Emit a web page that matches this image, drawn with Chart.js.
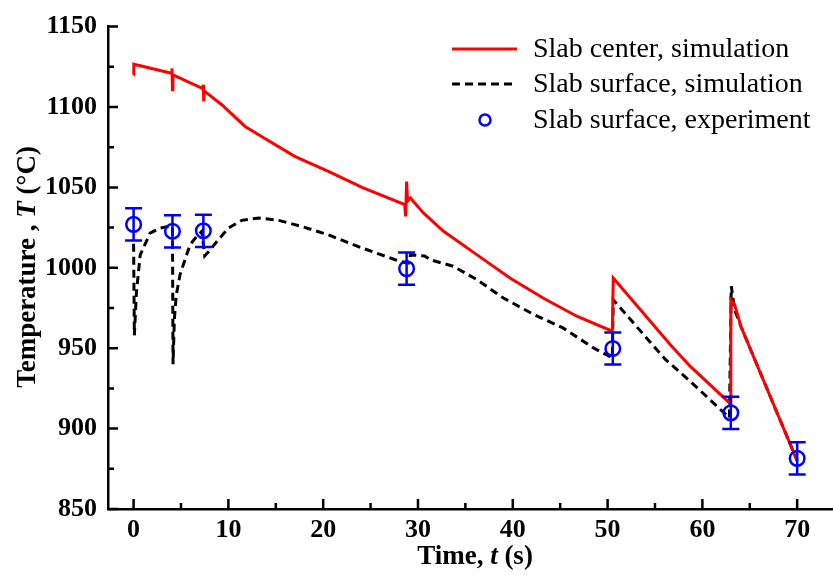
<!DOCTYPE html>
<html lang="en">
<head>
<meta charset="UTF-8">
<title>Slab temperature</title>
<script src="https://cdn.jsdelivr.net/npm/chart.js"></script>
<style>
  html, body { margin: 0; padding: 0; background: #fff; overflow: hidden; }
  #wrap { width: 833px; height: 575px; overflow: hidden; }
  canvas { display: block; }
</style>
</head>
<body>
<!-- canvas is a little wider than the page: Chart.js keeps ~10px right padding, this pushes the axis to the edge -->
<div id="wrap"><canvas id="chart" width="843" height="575"></canvas></div>
<script>
// slab center, simulation
const centerTime = [0, 0.02, 4.0, 4.05, 4.1, 4.15, 7.3, 7.35, 7.4, 7.45, 9.3, 11.76, 13.5, 17.0, 20.55, 24.1,
  28.6, 28.7, 28.8, 28.9, 29.2, 30.6, 32.7, 36.2, 39.7, 43.2, 46.75, 50.5, 50.6, 56.6, 58.7, 62.95, 63.0,
  63.4, 63.8, 64.1, 70.0];
const centerTemp = [1120, 1126.6, 1121, 1124, 1110.7, 1120, 1111.5, 1113.8, 1103.4, 1110, 1101.4, 1087.9, 1081.7, 1069.3, 1060, 1050,
  1039.3, 1032, 1053.7, 1041.5, 1043.4, 1034, 1022.7, 1008.2, 993.7, 981.2, 969.9, 960.6, 993.7, 952.3, 938.8, 915.5, 980,
  977, 969, 963, 880];

// slab surface, simulation
const surfTime = [0, 0.08, 0.3, 0.7, 1.74, 2.8, 3.85, 4.1, 4.16, 4.3, 4.5, 4.9, 5.96, 6.67, 7.2, 7.5, 7.9, 8.95, 10.0,
  11.4, 13.2, 15.3, 17.7, 20.5, 24.1, 27.6, 28.5, 29.0, 29.2, 30.7, 31.3, 33.7, 36.2, 39.0, 42.2, 45.3, 48.5,
  50.5, 50.6, 56.1, 58.7, 62.85, 63.05, 63.4, 64.1, 70.0];
const surfTemp = [1015, 958, 985, 1008, 1021.6, 1024.7, 1025.8, 1025.5, 940, 968, 983, 995.8, 1014.4, 1019.6, 1022.7, 1007.4, 1010, 1017.5, 1024.7,
  1029.5, 1031, 1029.5, 1025.8, 1020.6, 1012.3, 1005, 1003.5, 1003, 1008, 1007.4, 1005, 1001, 992.7, 981.2, 971, 962.6, 950.2,
  944, 980, 943, 929.5, 906.7, 988.5, 974, 963, 880];

// slab surface, experiment (error +/- 10)
const expTime = [0, 4.1, 7.36, 28.8, 50.55, 63.0, 70.0];
const expTemp = [1027, 1022.7, 1023, 999.5, 949.8, 909.8, 881.5];
const expErr = [10, 10, 10, 10, 10, 10, 10];

const seriesNames = ['Slab center, simulation', 'Slab surface, simulation', 'Slab surface, experiment'];

const toXY = (xs, ys) => xs.map((x, i) => ({ x: x, y: ys[i] }));

const serif = "'Liberation Serif', 'Times New Roman', serif";

// inward ticks, error bars, mixed-style axis titles and the legend box
const extras = {
  id: 'extras',
  afterDatasetsDraw(chart) {
    const { ctx, scales: { x, y } } = chart;
    ctx.save();
    ctx.strokeStyle = 'rgb(0,0,255)';
    ctx.lineWidth = 2.5;
    expTime.forEach((t, i) => {
      const px = x.getPixelForValue(t);
      const top = y.getPixelForValue(expTemp[i] + expErr[i]);
      const bot = y.getPixelForValue(expTemp[i] - expErr[i]);
      ctx.beginPath();
      ctx.moveTo(px, top); ctx.lineTo(px, bot);
      ctx.moveTo(px - 8.5, top); ctx.lineTo(px + 8.5, top);
      ctx.moveTo(px - 8.5, bot); ctx.lineTo(px + 8.5, bot);
      ctx.stroke();
    });
    ctx.restore();
  },
  afterDraw(chart) {
    const { ctx, chartArea: a, scales: { x, y } } = chart;
    ctx.save();
    ctx.strokeStyle = '#000';
    ctx.lineWidth = 2.5;
    ctx.beginPath();
    x.ticks.forEach(tk => {
      const px = x.getPixelForValue(tk.value);
      const len = tk.value % 10 === 0 ? 10 : 6;
      ctx.moveTo(px, a.bottom); ctx.lineTo(px, a.bottom - len);
    });
    y.ticks.forEach(tk => {
      const py = y.getPixelForValue(tk.value);
      const len = tk.value % 50 === 0 ? 10 : 6;
      ctx.moveTo(a.left, py); ctx.lineTo(a.left + len, py);
    });
    ctx.stroke();

    // axis titles
    ctx.fillStyle = '#000';
    ctx.textBaseline = 'middle';
    const drawParts = (parts, cx, cy) => {
      let w = 0;
      parts.forEach(p => { ctx.font = p[1] + ' 27px ' + serif; w += ctx.measureText(p[0]).width; });
      let sx = cx - w / 2;
      ctx.textAlign = 'left';
      parts.forEach(p => {
        ctx.font = p[1] + ' 27px ' + serif;
        ctx.fillText(p[0], sx, cy);
        sx += ctx.measureText(p[0]).width;
      });
    };
    drawParts([['Time, ', 'bold'], ['t', 'italic bold'], [' (s)', 'bold']], 475, 557);
    ctx.save();
    ctx.translate(28, 267);
    ctx.rotate(-Math.PI / 2);
    drawParts([['Temperature , ', 'bold'], ['T', 'italic bold'], [' (\u00B0C)', 'bold']], 0, 0);
    ctx.restore();

    // legend
    const ds = chart.data.datasets;
    const rows = [49, 84, 120];
    ctx.font = '28px ' + serif;
    ctx.textAlign = 'left';
    seriesNames.forEach((name, i) => {
      const cy = rows[i];
      if (i < 2) {
        ctx.save();
        ctx.strokeStyle = ds[i + 1].borderColor;
        ctx.lineWidth = ds[i + 1].borderWidth;
        ctx.setLineDash(ds[i + 1].borderDash || []);
        ctx.beginPath();
        ctx.moveTo(452, cy); ctx.lineTo(517, cy);
        ctx.stroke();
        ctx.restore();
      } else {
        ctx.save();
        ctx.strokeStyle = ds[0].borderColor;
        ctx.lineWidth = 2.5;
        ctx.beginPath();
        ctx.arc(485, cy, 5.5, 0, Math.PI * 2);
        ctx.stroke();
        ctx.restore();
      }
      ctx.fillText(name, 533, cy + 1);
    });
    ctx.restore();
  }
};

const ctx = document.getElementById('chart').getContext('2d');

const chart = new Chart(ctx, {
  type: 'scatter',
  data: {
    datasets: [
      {
        label: seriesNames[2],
        data: toXY(expTime, expTemp),
        showLine: false,
        pointRadius: 7.3,
        pointBorderWidth: 2.5,
        borderColor: 'rgb(0,0,255)',
        backgroundColor: 'rgba(0,0,0,0)',
        pointBorderColor: 'rgb(0,0,255)',
      },
      {
        label: seriesNames[0],
        data: toXY(centerTime, centerTemp),
        showLine: true,
        borderColor: 'rgb(255,0,0)',
        borderWidth: 3,
        pointRadius: 0,
        tension: 0,
      },
      {
        label: seriesNames[1],
        data: toXY(surfTime, surfTemp),
        showLine: true,
        borderColor: '#000',
        borderWidth: 3,
        borderDash: [8, 5],
        pointRadius: 0,
        tension: 0,
      },
    ],
  },
  options: {
    responsive: false,
    animation: false,
    layout: { padding: { top: 25, right: 0, left: 0, bottom: 0 } },
    plugins: {
      legend: { display: false },
      tooltip: { enabled: false },
    },
    scales: {
      x: {
        type: 'linear',
        min: -2.7,
        max: 73.8,
        afterFit: s => { s.height = 66; },
        grid: { display: true, drawOnChartArea: false, drawTicks: false },
        border: { display: true, width: 2.5, color: '#000' },
        ticks: {
          stepSize: 5,
          includeBounds: false,
          autoSkip: false,
          maxRotation: 0,
          padding: 6,
          color: '#000',
          font: { family: serif, size: 26, weight: 'bold' },
          callback: v => (v % 10 === 0 ? v : ''),
        },
      },
      y: {
        min: 850,
        max: 1150,
        afterFit: s => { s.width = 108; },
        grid: { display: true, drawOnChartArea: false, drawTicks: false },
        border: { display: true, width: 2.5, color: '#000' },
        ticks: {
          stepSize: 25,
          autoSkip: false,
          padding: 11,
          color: '#000',
          font: { family: serif, size: 26, weight: 'bold' },
          callback: v => (v % 50 === 0 ? v : ''),
        },
      },
    },
  },
  plugins: [extras],
});
</script>
</body>
</html>
